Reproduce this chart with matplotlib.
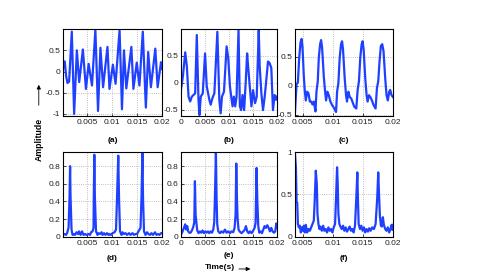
import matplotlib
matplotlib.use("Agg")
import matplotlib.pyplot as plt
from matplotlib.patches import FancyArrowPatch

plt.rcParams['font.family'] = ['Liberation Sans Narrow', 'Liberation Sans', 'DejaVu Sans']
plt.rcParams['axes.unicode_minus'] = False

# (a) raw signal
t_a = [0.0002, 0.00054, 0.00081, 0.00108, 0.00141, 0.00195, 0.00242, 0.00296, 0.00343,
       0.00417, 0.00478, 0.00532, 0.00599, 0.00667, 0.00720, 0.00768, 0.00821, 0.00909,
       0.00949, 0.01017, 0.01071, 0.01151, 0.01199, 0.01239, 0.01286, 0.01387, 0.01428,
       0.01495, 0.01549, 0.01616, 0.01677, 0.01724, 0.01778, 0.01866, 0.01913, 0.01980, 0.0200]
y_a = [0.06, 0.24, -0.10, -0.27, -0.24, 0.94, -1.00, 0.50, -0.25,
       0.52, -0.41, 0.18, -0.33, 0.98, -0.93, 0.56, -0.37, 0.58,
       -0.41, 0.16, -0.29, 0.98, -0.89, 0.50, -0.40, 0.58, -0.41,
       0.21, -0.33, 0.94, -0.85, 0.46, -0.37, 0.54, -0.37, 0.22, 0.06]

# (b)
t_b = [0.0, 0.00041, 0.00090, 0.00124, 0.00159, 0.00193, 0.00228, 0.00262, 0.00297, 0.00331,
       0.00366, 0.00386, 0.00414, 0.00455, 0.00503, 0.00538, 0.00593, 0.00621, 0.00655, 0.00697,
       0.00759, 0.00800, 0.00828, 0.00855, 0.00897, 0.00952, 0.00986, 0.01021, 0.01048, 0.01076,
       0.01103, 0.01131, 0.01159, 0.01200, 0.01228, 0.01255, 0.01283, 0.01317, 0.01352, 0.01379,
       0.01400, 0.01434, 0.01469, 0.01503, 0.01545, 0.01579, 0.01621, 0.01641, 0.01676, 0.01710,
       0.01745, 0.01779, 0.01814, 0.01848, 0.01883, 0.01917, 0.01952, 0.01986, 0.0200]
y_b = [-0.14, 0.11, 0.56, 0.30, -0.26, -0.35, -0.26, -0.23, -0.20, 0.88,
       -0.32, -0.60, -0.26, -0.20, 0.54, -0.07, -0.32, -0.41, -0.29, -0.20,
       0.94, -0.32, -0.57, -0.26, -0.17, 0.67, 0.45, -0.07, -0.26, -0.44,
       -0.26, -0.44, -0.26, 0.97, -0.44, -0.51, -0.23, -0.51, 0.05, 0.54,
       0.30, -0.07, -0.44, -0.14, -0.38, -0.26, 0.97, 0.30, -0.20, -0.51,
       -0.26, 0.05, 0.39, 0.36, 0.27, -0.51, -0.23, -0.32, -0.26]

# (c)
t_c = [0.00370, 0.00398, 0.00420, 0.00442, 0.00464, 0.00481, 0.00497, 0.00519, 0.00536, 0.00552,
       0.00574, 0.00597, 0.00619, 0.00641, 0.00663, 0.00685, 0.00713, 0.00729, 0.00751, 0.00768,
       0.00790, 0.00806, 0.00823, 0.00851, 0.00873, 0.00889, 0.00911, 0.00934, 0.00961, 0.00989,
       0.01027, 0.01055, 0.01072, 0.01094, 0.01116, 0.01138, 0.01155, 0.01171, 0.01199, 0.01221,
       0.01237, 0.01260, 0.01282, 0.01309, 0.01337, 0.01359, 0.01392, 0.01414, 0.01436, 0.01458,
       0.01481, 0.01497, 0.01514, 0.01541, 0.01563, 0.01580, 0.01602, 0.01624, 0.01652, 0.01679,
       0.01713, 0.01735, 0.01757, 0.01779, 0.01801, 0.01823, 0.01845, 0.01873, 0.01895, 0.01917,
       0.01939, 0.01956, 0.01978, 0.0200]
y_c = [-0.48, 0.03, 0.06, 0.49, 0.75, 0.81, 0.66, 0.16, -0.10, -0.25,
       -0.10, -0.13, -0.27, -0.27, -0.32, -0.27, -0.44, -0.10, 0.08, 0.49,
       0.72, 0.79, 0.66, 0.16, -0.10, -0.25, -0.10, -0.16, -0.27, -0.33,
       -0.39, -0.45, -0.10, 0.05, 0.49, 0.72, 0.77, 0.63, 0.13, -0.16,
       -0.27, -0.10, -0.19, -0.22, -0.30, -0.36, -0.39, -0.07, 0.08, 0.49,
       0.72, 0.77, 0.63, 0.13, -0.16, -0.27, -0.16, -0.19, -0.25, -0.33,
       -0.39, -0.04, 0.08, 0.43, 0.69, 0.72, 0.60, 0.13, -0.16, -0.25,
       -0.10, -0.07, -0.16, -0.19]

# (d)
t_d = [0.0002, 0.0005, 0.0008, 0.0010, 0.0013, 0.0015, 0.00161, 0.0017, 0.0019, 0.0021,
       0.0024, 0.0026, 0.0029, 0.0032, 0.0034, 0.0037, 0.0040, 0.0043, 0.0046, 0.0049,
       0.0053, 0.0056, 0.0058, 0.0061, 0.0063, 0.00635, 0.00646, 0.00657, 0.0068, 0.0071,
       0.0073, 0.0076, 0.0079, 0.0081, 0.0084, 0.0087, 0.0090, 0.0093, 0.0095, 0.0098,
       0.0101, 0.0105, 0.0108, 0.0110, 0.01125, 0.0114, 0.0116, 0.0119, 0.0121, 0.0124,
       0.0127, 0.0130, 0.0134, 0.0137, 0.0141, 0.0144, 0.0147, 0.0150, 0.0153, 0.0157,
       0.0159, 0.01609, 0.0162, 0.0164, 0.0167, 0.0170, 0.0173, 0.0176, 0.0179, 0.0182,
       0.0186, 0.0189, 0.0192, 0.0195, 0.0198, 0.0200]
y_d = [0.02, 0.03, 0.02, 0.04, 0.10, 0.45, 0.80, 0.45, 0.08, 0.02,
       0.03, 0.02, 0.05, 0.03, 0.06, 0.02, 0.06, 0.02, 0.03, 0.02,
       0.03, 0.02, 0.05, 0.06, 0.10, 0.45, 0.93, 0.45, 0.06, 0.02,
       0.04, 0.03, 0.05, 0.02, 0.04, 0.02, 0.04, 0.02, 0.03, 0.02,
       0.04, 0.05, 0.08, 0.44, 0.92, 0.44, 0.06, 0.02, 0.05, 0.03,
       0.04, 0.02, 0.04, 0.02, 0.04, 0.02, 0.03, 0.03, 0.06, 0.10,
       0.45, 0.96, 0.45, 0.06, 0.02, 0.05, 0.03, 0.02, 0.04, 0.02,
       0.05, 0.02, 0.03, 0.02, 0.04, 0.04]

# (e)
t_e = [0.0, 0.00035, 0.00063, 0.00090, 0.00111, 0.00132, 0.00153, 0.00174, 0.00201, 0.00229,
       0.00257, 0.00278, 0.00292, 0.00306, 0.00319, 0.00340, 0.00368, 0.00396, 0.00424, 0.00451,
       0.00479, 0.00507, 0.00535, 0.00563, 0.00590, 0.00618, 0.00646, 0.00674, 0.00694, 0.00708,
       0.00729, 0.00743, 0.00757, 0.00778, 0.00813, 0.00847, 0.00882, 0.00917, 0.00951, 0.00986,
       0.01021, 0.01056, 0.01090, 0.01118, 0.01139, 0.01153, 0.01167, 0.01181, 0.01201, 0.01229,
       0.01264, 0.01299, 0.01333, 0.01354, 0.01382, 0.01410, 0.01438, 0.01472, 0.01507, 0.01535,
       0.01556, 0.01576, 0.01590, 0.01611, 0.01632, 0.01660, 0.01688, 0.01715, 0.01743, 0.01771,
       0.01799, 0.01826, 0.01854, 0.01882, 0.01910, 0.01938, 0.01965, 0.01986, 0.0200]
y_e = [0.02, 0.06, 0.10, 0.14, 0.08, 0.12, 0.06, 0.045, 0.045, 0.07,
       0.11, 0.16, 0.63, 0.25, 0.18, 0.07, 0.04, 0.06, 0.045, 0.07,
       0.04, 0.06, 0.045, 0.06, 0.04, 0.06, 0.045, 0.08, 0.16, 0.44,
       0.957, 0.44, 0.14, 0.06, 0.04, 0.06, 0.045, 0.08, 0.045, 0.06,
       0.04, 0.06, 0.05, 0.10, 0.25, 0.83, 0.44, 0.20, 0.08, 0.056,
       0.04, 0.06, 0.08, 0.12, 0.06, 0.04, 0.06, 0.04, 0.07, 0.10,
       0.16, 0.78, 0.44, 0.12, 0.045, 0.06, 0.04, 0.08, 0.12, 0.10,
       0.13, 0.10, 0.06, 0.10, 0.06, 0.045, 0.06, 0.15, 0.10]

# (f)
t_f = [0.00370, 0.00387, 0.00398, 0.00409, 0.00420, 0.00436, 0.00453, 0.00469, 0.00486, 0.00503,
       0.00519, 0.00536, 0.00552, 0.00574, 0.00597, 0.00619, 0.00641, 0.00663, 0.00685, 0.00702,
       0.00718, 0.00735, 0.00746, 0.00762, 0.00779, 0.00795, 0.00818, 0.00840, 0.00862, 0.00884,
       0.00906, 0.00928, 0.00950, 0.00972, 0.00994, 0.01016, 0.01039, 0.01055, 0.01072, 0.01083,
       0.01094, 0.01110, 0.01127, 0.01149, 0.01171, 0.01193, 0.01215, 0.01237, 0.01260, 0.01282,
       0.01304, 0.01326, 0.01348, 0.01370, 0.01392, 0.01409, 0.01420, 0.01431, 0.01453, 0.01475,
       0.01497, 0.01519, 0.01541, 0.01563, 0.01586, 0.01608, 0.01630, 0.01657, 0.01685, 0.01713,
       0.01740, 0.01757, 0.01768, 0.01784, 0.01801, 0.01818, 0.01834, 0.01851, 0.01873, 0.01895,
       0.01917, 0.01939, 0.01961, 0.01978, 0.01994, 0.0200]
y_f = [1.00, 0.82, 0.42, 0.40, 0.15, 0.11, 0.13, 0.05, 0.11, 0.07,
       0.13, 0.05, 0.14, 0.05, 0.09, 0.07, 0.11, 0.15, 0.19, 0.46,
       0.78, 0.62, 0.27, 0.15, 0.09, 0.12, 0.07, 0.13, 0.07, 0.09,
       0.05, 0.11, 0.07, 0.09, 0.05, 0.11, 0.15, 0.46, 0.82, 0.62,
       0.27, 0.15, 0.12, 0.09, 0.13, 0.07, 0.11, 0.06, 0.09, 0.12,
       0.07, 0.09, 0.05, 0.13, 0.46, 0.76, 0.42, 0.15, 0.09, 0.13,
       0.07, 0.11, 0.05, 0.09, 0.06, 0.10, 0.07, 0.11, 0.09, 0.15,
       0.46, 0.76, 0.54, 0.25, 0.13, 0.12, 0.23, 0.14, 0.09, 0.07,
       0.11, 0.05, 0.09, 0.14, 0.08, 0.14]

xt_full = [0, 0.005, 0.01, 0.015, 0.02]
xl_full = ['0', '0.005', '0.01', '0.015', '0.02']
xt_part = [0.005, 0.01, 0.015, 0.02]
xl_part = ['0.005', '0.01', '0.015', '0.02']

panels = [
    # t, y, rect, xlim, xticks, xlabels, ylim, yticks, ylabels, tag, tag_y
    (t_a, y_a, [0.130, 0.581, 0.204, 0.314], (0.0002, 0.02), xt_part, xl_part,
     (-1.05, 1.0), [-1, -0.5, 0, 0.5], ['-1', '-0.5', '0', '0.5'], '(a)', 0.491),
    (t_b, y_b, [0.373, 0.581, 0.198, 0.314], (0, 0.02), xt_full, xl_full,
     (-0.62, 0.99), [-0.5, 0, 0.5], ['-0.5', '0', '0.5'], '(b)', 0.491),
    (t_c, y_c, [0.608, 0.581, 0.202, 0.314], (0.0037, 0.02), xt_part, xl_part,
     (-0.52, 0.98), [-0.5, 0, 0.5], ['-0.5', '0', '0.5'], '(c)', 0.491),
    (t_d, y_d, [0.130, 0.144, 0.204, 0.307], (0.0002, 0.02), xt_part, xl_part,
     (-0.005, 0.96), [0, 0.2, 0.4, 0.6, 0.8], ['0', '0.2', '0.4', '0.6', '0.8'], '(d)', 0.065),
    (t_e, y_e, [0.373, 0.144, 0.198, 0.307], (0, 0.02), xt_full, xl_full,
     (-0.005, 0.96), [0, 0.2, 0.4, 0.6, 0.8], ['0', '0.2', '0.4', '0.6', '0.8'], '(e)', 0.079),
    (t_f, y_f, [0.608, 0.144, 0.202, 0.307], (0.0037, 0.02), xt_part, xl_part,
     (-0.005, 1.0), [0, 0.5, 1], ['0', '0.5', '1'], '(f)', 0.065),
]

fig = plt.figure(figsize=(4.85, 2.77), dpi=100)

for (tx, yv, rect, xlim, xt, xl, ylim, yt, yl, tag, tag_y) in panels:
    ax = fig.add_axes(rect)
    ax.plot(tx, yv, color='#2040ff', lw=1.6)
    ax.set_xlim(*xlim)
    ax.set_ylim(*ylim)
    ax.set_xticks(xt)
    ax.set_xticklabels(xl)
    ax.set_yticks(yt)
    ax.set_yticklabels(yl)
    ax.grid(True, linestyle=':', color='#aaaaaa', lw=0.6)
    ax.tick_params(direction='in', length=2, width=0.5, labelsize=6,
                   labelcolor='#222222', pad=2)
    for s in ax.spines.values():
        s.set_linewidth(0.8)
    fig.text(rect[0] + rect[2] / 2, tag_y, tag, ha='center', va='center',
             fontsize=6, fontweight='bold')

fig.text(0.080, 0.495, 'Amplitude', rotation=90, ha='center', va='center',
         fontsize=6.3, fontweight='bold')
fig.add_artist(FancyArrowPatch((0.080, 0.610), (0.080, 0.704), transform=fig.transFigure,
                               arrowstyle='-|>', color='black', lw=0.6, mutation_scale=6))
fig.text(0.454, 0.0325, 'Time(s)', ha='center', va='center', fontsize=6, fontweight='bold')
fig.add_artist(FancyArrowPatch((0.487, 0.029), (0.522, 0.029), transform=fig.transFigure,
                               arrowstyle='-|>', color='black', lw=0.6, mutation_scale=6))

fig.savefig('out.png', dpi=100)
